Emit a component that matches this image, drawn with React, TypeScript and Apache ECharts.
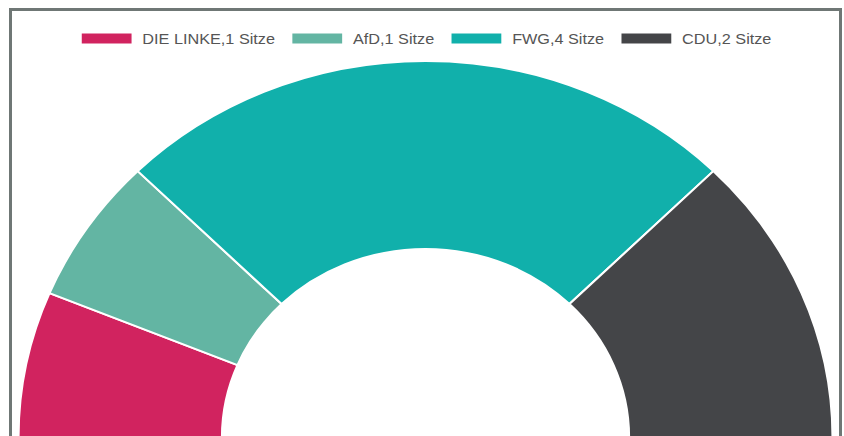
import React, { useEffect, useRef } from "react";
import * as echarts from "echarts";

const parties = ["DIE LINKE", "AfD", "FWG", "CDU"];
const seats = [1, 1, 4, 2];
const colors = ["#d1235f", "#63b5a3", "#11b0ab", "#444548"];

const STRETCH = 1.0825;

export default function App() {
  const ref = useRef<HTMLDivElement>(null);

  useEffect(() => {
    if (!ref.current) return;
    const chart = echarts.init(ref.current, undefined, { renderer: "svg" });
    const data = parties.map((p, i) => ({
      name: `${p},${seats[i]} Sitze`,
      value: seats[i],
      itemStyle: { color: colors[i] },
    }));
    chart.setOption({
      animation: false,
      legend: {
        top: 15,
        left: "center",
        itemWidth: 48,
        itemHeight: 12,
        itemGap: 14,
        icon: "rect",
        textStyle: {
          color: "#555",
          fontSize: 15,
          fontFamily: "Liberation Sans, Arial, sans-serif",
          padding: [0, 0, 0, 4],
        },
        data: data.map((d) => d.name),
      },
      series: [
        {
          type: "pie",
          center: [382, 426],
          radius: [188, 376],
          startAngle: 180,
          endAngle: 0,
          clockwise: true,
          label: { show: false },
          labelLine: { show: false },
          emphasis: { disabled: true },
          itemStyle: { borderColor: "#fff", borderWidth: 2 },
          data,
        },
      ],
    });
    return () => chart.dispose();
  }, []);

  return (
    <div
      style={{
        position: "fixed",
        left: 9,
        top: 8,
        width: 827,
        height: 460,
        borderTop: "3px solid #6f7775",
        borderLeft: "3px solid #6f7775",
        borderRight: "3px solid #6f7775",
        background: "#fff",
        overflow: "hidden",
      }}
    >
      <div
        ref={ref}
        style={{
          width: 764,
          height: 449,
          transform: `scaleX(${STRETCH})`,
          transformOrigin: "0 0",
        }}
      />
    </div>
  );
}
